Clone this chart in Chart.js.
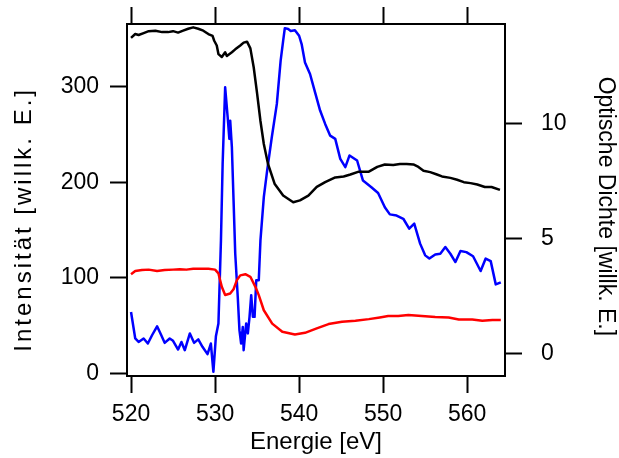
<!DOCTYPE html>
<html>
<head>
<meta charset="utf-8">
<script src="https://cdn.jsdelivr.net/npm/chart.js@4/dist/chart.umd.min.js"></script>
<style>
  html, body { margin: 0; padding: 0; background: #fff; }
  #wrap { width: 619px; height: 458px; }
</style>
</head>
<body>
<div id="wrap"><canvas id="xas" width="619" height="458"></canvas></div>
<script>
// ─── O K-edge spectra: intensity (left axis) and optical density (right axis) ───

const energyBlack = [520.0, 520.5, 520.9, 521.5, 522.1, 522.9, 523.7, 524.4, 525.0, 525.6,
  526.2, 526.8, 527.4, 528.0, 528.6, 529.2, 529.7, 529.9, 530.2, 530.4, 530.8, 531.2, 531.4,
  532.0, 532.4, 533.0, 533.4, 533.8, 534.2, 534.6, 535.0, 535.4, 535.8, 536.3, 537.1, 538.1,
  539.3, 540.1, 541.1, 542.1, 543.1, 544.3, 545.3, 546.1, 547.1, 548.3, 549.3, 550.2, 551.2,
  552.0, 552.8, 553.6, 554.2, 554.8, 555.6, 556.4, 557.0, 558.0, 558.8, 559.6, 560.4, 561.2,
  562.1, 562.9, 563.9];
const intensityBlack = [351, 355, 354, 356, 358, 358.5, 357, 357, 358, 356.5,
  358.5, 360.5, 362, 360.5, 358.5, 355, 353, 348, 343, 334, 331, 336, 332,
  336, 339, 343, 346, 347, 340, 320, 293, 264, 240, 219, 198, 186,
  179, 181, 186, 195, 200, 205, 206, 208, 211, 211, 216, 218.5, 218,
  219, 219, 218.5, 216, 212, 210.5, 208, 206, 204.5, 202.5, 200, 199, 197.5,
  195, 195, 192];

const energyRed = [520.0, 520.5, 521.3, 522.1, 523.1, 524.0, 525.0, 525.8, 526.6, 527.4,
  528.2, 529.2, 530.0, 530.4, 530.8, 531.2, 531.8, 532.2, 532.6, 533.0, 533.6, 534.2, 534.8,
  535.2, 535.8, 536.8, 538.0, 539.5, 540.7, 542.1, 543.5, 545.1, 546.7, 548.3, 549.6, 550.6,
  551.8, 553.0, 554.6, 556.2, 557.8, 559.0, 560.6, 561.8, 563.0, 564.0];
const intensityRed = [103.7, 107, 108, 108.5, 107, 108, 108.5, 109, 108.5, 109.5,
  109.5, 109.5, 108.5, 104.5, 90.5, 82, 83.5, 88, 97.5, 102.5, 103.7, 101, 90.5,
  81.8, 66, 52, 43.5, 40.7, 42.4, 47, 51.5, 54, 55, 56.7, 58.5, 60,
  60, 61, 60, 59, 58.5, 56.4, 56.4, 55, 55.7, 55.7];

const energyBlue = [520.0, 520.5, 520.9, 521.5, 522.0, 522.5, 523.1, 523.6, 524.0, 524.6,
  525.0, 525.6, 526.0, 526.4, 527.0, 527.5, 528.0, 528.5, 529.1, 529.5, 529.8, 530.1, 530.4,
  530.7, 530.9, 531.2, 531.5, 531.7, 531.8, 532.0, 532.2, 532.4, 532.7, 532.9, 533.1, 533.3,
  533.4, 533.7, 533.9, 534.1, 534.3, 534.5, 534.7, 534.9, 535.2, 535.4, 535.8, 536.2, 536.75,
  537.35, 537.8, 538.1, 538.3, 538.7, 539.0, 539.5, 540.0, 540.3, 540.7, 541.3, 541.9, 542.5,
  543.1, 543.7, 544.3, 544.9, 545.5, 546.0, 546.9, 547.6, 548.6, 549.4, 550.2, 550.8, 551.6,
  552.4, 553.1, 553.7, 554.4, 555.0, 555.5, 556.2, 556.8, 557.4, 558.0, 558.6, 559.2, 559.9,
  560.7, 561.6, 562.2, 562.8, 563.4, 564.0];
const densityBlue = [1.80, 0.65, 0.50, 0.65, 0.43, 0.79, 1.18, 0.79, 0.46, 0.65,
  0.55, 0.17, 0.50, 0.14, 0.87, 0.46, 0.61, 0.29, -0.03, 0.43, -0.80, 0.75, 1.30,
  4.91, 8.23, 11.56, 10.26, 9.32, 10.11, 8.96, 6.65, 4.33, 2.45, 1.01, 0.43, 1.15,
  0.14, 1.30, 0.87, 1.59, 2.53, 1.59, 1.59, 3.18, 3.18, 4.91, 6.79, 7.95, 9.39,
  10.84, 12.71, 13.58, 14.13, 14.09, 14.01, 14.04, 13.80, 13.44, 12.64, 12.14, 11.34, 10.55,
  9.97, 9.46, 9.32, 8.45, 8.09, 8.60, 8.38, 7.51, 7.22, 6.97, 6.35, 6.04, 5.99,
  5.85, 5.42, 5.64, 4.77, 4.26, 4.12, 4.30, 4.33, 4.62, 4.33, 3.97, 4.45, 4.40,
  4.22, 3.58, 4.12, 4.01, 3.00, 3.09];

const energyTicks = [520, 530, 540, 550, 560];
const intensityTicks = [0, 100, 200, 300];
const densityTicks = [0, 5, 10];

const FONT = 'Liberation Sans, Arial, Helvetica, sans-serif';
const INK = '#000';

const pairs = (xs, ys) => xs.map((x, i) => ({ x, y: ys[i] }));

function frameAxis(extra, z) {
  return Object.assign({
    type: 'linear',
    grid: { drawOnChartArea: false, drawTicks: true, tickLength: 17, tickWidth: 2, tickColor: INK, z: z || -1 },
    border: { display: true, color: INK, width: 2, z: z || 0 },
  }, extra);
}

// fixed box sizes; drop the label overhang padding so the frame sits where it should
const fixBox = (w, h) => s => {
  if (w !== null) s.width = w;
  if (h !== null) s.height = h;
  s.paddingTop = 0; s.paddingBottom = 0;
};

const tickFont = { family: FONT, size: 23 };

// the left axis (grid, title, border) is drawn after the datasets, with wider tracking
const wideTitle = {
  id: 'wideTitle',
  afterDatasetsDraw(chart) { chart.ctx.letterSpacing = '3px'; },
  afterDraw(chart) { chart.ctx.letterSpacing = '0px'; },
};

new Chart(document.getElementById('xas').getContext('2d'), {
  type: 'line',
  data: {
    datasets: [
      { label: 'Intensität', data: pairs(energyBlack, intensityBlack), yAxisID: 'y',
        borderColor: '#000000', borderWidth: 2.5 },
      { label: 'Intensität (Referenz)', data: pairs(energyRed, intensityRed), yAxisID: 'y',
        borderColor: '#ff0000', borderWidth: 2.5 },
      { label: 'Optische Dichte', data: pairs(energyBlue, densityBlue), yAxisID: 'y2',
        borderColor: '#0000ff', borderWidth: 2.5 },
    ],
  },
  plugins: [wideTitle],
  options: {
    responsive: false, animation: false,
    layout: { padding: 0, autoPadding: false },
    elements: { point: { radius: 0 }, line: { tension: 0, borderJoinStyle: 'round' } },
    plugins: { legend: { display: false }, tooltip: { enabled: false } },
    scales: {
      x: frameAxis({
        position: 'bottom', min: 519.52, max: 564.5,
        afterBuildTicks: s => { s.ticks = energyTicks.map(v => ({ value: v })); },
        ticks: { font: tickFont, color: INK, padding: 8, maxRotation: 0 },
        title: { display: true, text: 'Energie [eV]', color: INK,
          font: { family: FONT, size: 24 }, padding: { top: 0, bottom: 1 } },
        afterFit: fixBox(null, 82),
      }),
      xTop: frameAxis({
        position: 'top', min: 519.52, max: 564.5,
        afterBuildTicks: s => { s.ticks = energyTicks.map(v => ({ value: v })); },
        ticks: { display: false },
        afterFit: fixBox(null, 24),
      }),
      y: frameAxis({
        position: 'left', min: -2.8, max: 365.5,
        afterBuildTicks: s => { s.ticks = intensityTicks.map(v => ({ value: v })); },
        ticks: { font: tickFont, color: INK, padding: 11 },
        title: { display: true, text: 'Intensität [willk. E.]    ', color: INK,
          font: { family: FONT, size: 24 }, padding: { top: 10, bottom: 0 } },
        afterFit: fixBox(127, null),
      }, 1),
      y2: frameAxis({
        position: 'right', min: -0.98, max: 14.31,
        afterBuildTicks: s => { s.ticks = densityTicks.map(v => ({ value: v })); },
        ticks: { font: tickFont, color: INK, padding: 19 },
        title: { display: true, text: '  Optische Dichte [willk. E.]', color: INK,
          font: { family: FONT, size: 23 }, padding: { top: 0, bottom: 0 } },
        afterFit: fixBox(114, null),
      }),
    },
  },
});
</script>
</body>
</html>
